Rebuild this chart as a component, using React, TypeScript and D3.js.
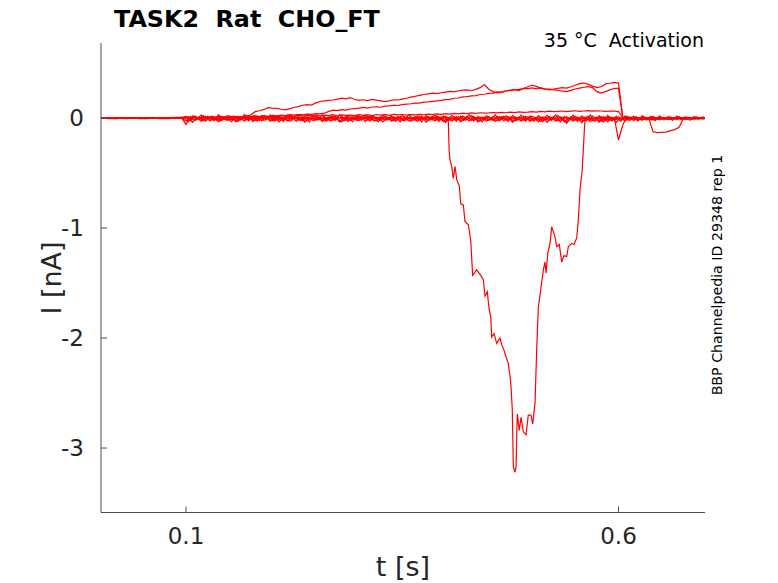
import * as d3 from 'd3'

// shared sampling grids for the regular sweeps (s)
const tGrid = d3.range(0, 141).map((i) => i * 0.005)
const tMid = d3.range(0, 141).map((i) => i * 0.005 + 0.0025)

// sweep values (nA), one per grid point
const sweepA = [
  0.0, 0.004, -0.003, 0.002, -0.004, 0.003, 0.001, -0.002, 0.004, -0.003, 0.002, 0.0, -0.004, 0.003, -0.001, 0.002, -0.003, 0.004, -0.002, 0.001,
  0.012, -0.025, 0.018, -0.01, 0.022, -0.015, 0.008, -0.02, 0.016, -0.008, 0.02, -0.018, 0.01, -0.014, 0.024, -0.012, 0.006, -0.022, 0.015, -0.006,
  0.018, -0.02, 0.01, -0.016, 0.022, -0.01, 0.014, -0.024, 0.008, -0.012, 0.02, -0.016, 0.012, -0.02, 0.018, -0.008, 0.016, -0.022, 0.01, -0.014,
  0.02, -0.012, 0.015, -0.018, 0.008, -0.022, 0.018, -0.01, 0.012, -0.016, 0.022, -0.014, 0.01, -0.02, 0.016, -0.008, 0.014, -0.018, 0.02, -0.012,
  0.016, -0.02, 0.012, -0.014, 0.018, -0.01, 0.022, -0.016, 0.01, -0.018, 0.014, -0.022, 0.016, -0.01, 0.02, -0.014, 0.012, -0.018, 0.016, -0.012,
  0.018, -0.016, 0.01, -0.02, 0.014, -0.012, 0.022, -0.018, 0.012, -0.014, 0.016, -0.02, 0.01, -0.016, 0.018, -0.01, 0.014, -0.022, 0.012, -0.018,
  0.01, -0.014, 0.016, -0.008, 0.012, -0.016, 0.01, -0.012, 0.014, -0.01, 0.008, -0.012, 0.01, -0.008, 0.012, -0.01, 0.006, -0.008, 0.01, -0.006, 0.004,
]
const sweepB = [
  -0.004, -0.002, -0.006, -0.003, -0.005, -0.001, -0.006, -0.004, -0.002, -0.005, -0.003, -0.006, -0.002, -0.004, -0.005, -0.003, -0.006, -0.001, -0.004, -0.003,
  -0.03, 0.005, -0.022, -0.002, -0.026, 0.004, -0.018, -0.008, -0.028, 0.002, -0.02, -0.006, -0.032, 0.0, -0.016, -0.01, -0.024, 0.006, -0.02, -0.004,
  -0.026, 0.002, -0.018, -0.008, -0.03, 0.004, -0.014, -0.012, -0.024, 0.0, -0.02, -0.006, -0.028, 0.003, -0.016, -0.01, -0.034, 0.002, -0.018, -0.006,
  -0.024, 0.004, -0.02, -0.01, -0.028, 0.0, -0.016, -0.008, -0.026, 0.002, -0.022, -0.012, -0.03, 0.004, -0.018, -0.006, -0.024, 0.0, -0.02, -0.008,
  -0.028, 0.002, -0.016, -0.01, -0.024, 0.004, -0.02, -0.006, -0.03, 0.0, -0.018, -0.008, -0.026, 0.002, -0.014, -0.012, -0.028, 0.004, -0.02, -0.006,
  -0.024, -0.002, -0.03, -0.008, -0.022, 0.0, -0.026, -0.01, -0.034, -0.004, -0.02, -0.008, -0.028, -0.002, -0.024, -0.012, -0.03, -0.004, -0.022, -0.01,
  -0.018, -0.006, -0.016, -0.004, -0.014, -0.008, -0.012, -0.004, -0.016, -0.006, -0.01, -0.004, -0.012, -0.006, -0.008, -0.004, -0.01, -0.006, -0.008, -0.004, -0.006,
]
const sweepC = [
  0.001, -0.002, 0.003, 0.0, -0.002, 0.002, -0.001, 0.003, -0.002, 0.001, 0.0, -0.003, 0.002, -0.001, 0.003, 0.0, -0.002, 0.002, -0.001, 0.001,
  0.006, -0.004, 0.01, 0.0, 0.012, -0.002, 0.008, 0.004, 0.014, 0.002, 0.01, 0.006, 0.016, 0.004, 0.012, 0.008, 0.018, 0.006, 0.014, 0.01,
  0.02, 0.012, 0.022, 0.016, 0.024, 0.014, 0.026, 0.018, 0.022, 0.02, 0.028, 0.018, 0.026, 0.022, 0.03, 0.02, 0.028, 0.024, 0.026, 0.022,
  0.03, 0.024, 0.028, 0.022, 0.032, 0.026, 0.03, 0.024, 0.034, 0.028, 0.032, 0.026, 0.03, 0.028, 0.034, 0.03, 0.036, 0.032, 0.038, 0.034,
  0.04, 0.036, 0.042, 0.038, 0.044, 0.04, 0.046, 0.042, 0.048, 0.044, 0.046, 0.05, 0.046, 0.052, 0.048, 0.054, 0.05, 0.056, 0.052, 0.054,
  0.058, 0.054, 0.06, 0.056, 0.062, 0.058, 0.06, 0.064, 0.058, 0.062, 0.066, 0.06, 0.064, 0.068, 0.062, 0.066, 0.064, 0.06, 0.064, 0.062,
  0.058, 0.002, -0.003, 0.002, -0.002, 0.001, -0.003, 0.002, 0.0, -0.002, 0.003, -0.001, 0.002, -0.002, 0.001, -0.001, 0.002, -0.002, 0.001, 0.0, 0.001,
]
const sweepD = [
  -0.001, 0.002, -0.002, 0.001, 0.003, -0.002, 0.0, 0.002, -0.003, 0.001, -0.001, 0.003, -0.002, 0.0, 0.002, -0.001, 0.001, -0.003, 0.002, 0.0,
  0.01, -0.012, 0.014, -0.006, 0.012, -0.01, 0.016, -0.004, 0.01, -0.012, 0.008, 0.004, 0.014, -0.006, 0.012, 0.03, 0.058, 0.066, 0.078, 0.094,
  0.09, 0.088, 0.08, 0.074, 0.086, 0.096, 0.104, 0.116, 0.122, 0.118, 0.138, 0.15, 0.156, 0.16, 0.164, 0.172, 0.18, 0.174, 0.186, 0.168,
  0.16, 0.166, 0.158, 0.17, 0.162, 0.156, 0.15, 0.156, 0.166, 0.164, 0.172, 0.18, 0.19, 0.198, 0.206, 0.214, 0.22, 0.226, 0.222, 0.23,
  0.236, 0.242, 0.238, 0.248, 0.254, 0.256, 0.248, 0.26, 0.276, 0.304, 0.262, 0.24, 0.228, 0.232, 0.246, 0.254, 0.258, 0.25, 0.268, 0.284,
  0.3, 0.288, 0.27, 0.262, 0.256, 0.262, 0.27, 0.276, 0.272, 0.284, 0.298, 0.312, 0.318, 0.306, 0.29, 0.276, 0.284, 0.31, 0.316, 0.324,
  0.318, 0.004, -0.006, 0.008, -0.004, 0.006, -0.008, 0.004, -0.002, 0.006, -0.004, 0.002, -0.006, 0.004, -0.002, 0.005, -0.003, 0.002, -0.004, 0.003, 0.0,
]
const sweepE = [
  0.002, -0.001, 0.001, -0.003, 0.002, 0.0, -0.002, 0.003, -0.001, 0.002, -0.002, 0.001, 0.003, -0.001, 0.0, 0.002, -0.003, 0.001, 0.0, -0.002,
  0.008, -0.004, 0.012, 0.002, 0.01, -0.002, 0.014, 0.004, 0.012, 0.006, 0.016, 0.008, 0.014, 0.01, 0.018, 0.012, 0.02, 0.014, 0.022, 0.016,
  0.024, 0.02, 0.026, 0.022, 0.03, 0.026, 0.032, 0.03, 0.036, 0.034, 0.04, 0.038, 0.044, 0.06, 0.072, 0.068, 0.076, 0.072, 0.082, 0.086,
  0.09, 0.096, 0.09, 0.1, 0.102, 0.098, 0.108, 0.11, 0.116, 0.114, 0.122, 0.126, 0.13, 0.136, 0.136, 0.144, 0.146, 0.152, 0.156, 0.16,
  0.168, 0.17, 0.18, 0.182, 0.192, 0.194, 0.202, 0.204, 0.214, 0.216, 0.224, 0.226, 0.238, 0.238, 0.248, 0.248, 0.258, 0.26, 0.268, 0.268,
  0.274, 0.266, 0.276, 0.264, 0.262, 0.256, 0.25, 0.244, 0.24, 0.252, 0.264, 0.272, 0.28, 0.286, 0.276, 0.24, 0.226, 0.24, 0.256, 0.268,
  0.272, -0.004, 0.003, -0.006, 0.002, -0.004, 0.005, -0.002, 0.003, -0.005, 0.002, -0.003, 0.004, -0.002, 0.003, -0.004, 0.002, -0.001, 0.003, -0.002, 0.001,
]
const sweepG = [
  0.002, -0.001, 0.003, -0.002, 0.001, 0.003, -0.002, 0.0, 0.002, -0.003, 0.001, 0.002, -0.001, 0.003, -0.002, 0.0, 0.002, -0.003, 0.001, 0.0,
  -0.06, 0.014, -0.018, 0.008, -0.012, 0.016, -0.006, 0.01, -0.02, 0.012, -0.008, 0.018, -0.014, 0.006, -0.01, 0.014, -0.016, 0.01, -0.004, 0.012,
  -0.012, 0.01, -0.016, 0.014, -0.008, 0.012, -0.02, 0.008, -0.01, 0.016, -0.014, 0.006, -0.012, 0.01, -0.018, 0.012, -0.006, 0.014, -0.016, 0.008,
  -0.01, 0.012, -0.014, 0.016, -0.008, 0.01, -0.018, 0.006, -0.012, 0.014, -0.016, 0.01, -0.006, 0.012, -0.02, 0.008, -0.01, 0.016, -0.014, 0.01,
  -0.04, 0.008, -0.014, 0.012, -0.01, 0.016, -0.018, 0.006, -0.012, 0.01, -0.016, 0.012, -0.008, 0.014, -0.02, 0.01, -0.012, 0.008, -0.014, 0.012,
  -0.01, 0.006, -0.016, 0.01, -0.012, 0.014, -0.018, 0.008, -0.05, 0.012, -0.014, 0.006, -0.01, 0.016, -0.012, 0.008, -0.02, 0.01, -0.014, 0.006,
  -0.2, -0.06, 0.01, -0.008, 0.006, -0.01, 0.004, -0.006, -0.125, -0.132, -0.13, -0.128, -0.115, -0.105, -0.085, -0.005, 0.004, -0.006, 0.003, -0.004, 0.002,
]
// two more baseline sweeps on the half-step grid
const sweepH = [
  0.002, -0.002, 0.001, -0.003, 0.002, 0.0, -0.002, 0.003, -0.001, 0.002, -0.003, 0.001, 0.002, -0.002, 0.0, 0.003, -0.002, 0.001, -0.001, 0.002,
  -0.035, 0.02, -0.012, 0.028, -0.03, 0.01, -0.024, 0.03, -0.016, 0.022, -0.034, 0.014, -0.02, 0.032, -0.026, 0.018, -0.03, 0.024, -0.014, 0.028,
  -0.028, 0.016, -0.032, 0.026, -0.018, 0.03, -0.024, 0.012, -0.036, 0.022, -0.016, 0.028, -0.03, 0.018, -0.022, 0.032, -0.026, 0.014, -0.034, 0.024,
  -0.02, 0.03, -0.028, 0.016, -0.034, 0.026, -0.018, 0.022, -0.03, 0.012, -0.026, 0.03, -0.022, 0.018, -0.036, 0.024, -0.016, 0.028, -0.032, 0.02,
  -0.024, 0.026, -0.03, 0.018, -0.02, 0.032, -0.028, 0.014, -0.034, 0.022, -0.018, 0.03, -0.026, 0.016, -0.032, 0.024, -0.022, 0.028, -0.03, 0.018,
  -0.028, 0.022, -0.034, 0.026, -0.02, 0.03, -0.036, 0.014, -0.026, 0.028, -0.032, 0.018, -0.024, 0.03, -0.03, 0.02, -0.038, 0.024, -0.028, 0.016,
  -0.03, 0.02, -0.024, 0.018, -0.028, 0.022, -0.02, 0.016, -0.024, 0.02, -0.018, 0.014, -0.022, 0.018, -0.016, 0.012, -0.02, 0.014, -0.012, 0.01, -0.008,
]
const sweepK = [
  -0.003, 0.001, -0.004, -0.001, -0.003, 0.0, -0.004, -0.002, 0.001, -0.003, -0.001, -0.004, 0.0, -0.002, -0.003, 0.001, -0.004, -0.002, 0.0, -0.003,
  0.01, -0.038, 0.006, -0.03, 0.014, -0.026, 0.004, -0.034, 0.012, -0.022, 0.008, -0.036, 0.002, -0.028, 0.016, -0.032, 0.006, -0.024, 0.01, -0.03,
  0.012, -0.034, 0.004, -0.026, 0.014, -0.03, 0.008, -0.038, 0.002, -0.024, 0.012, -0.032, 0.006, -0.028, 0.016, -0.036, 0.004, -0.03, 0.01, -0.022,
  0.008, -0.032, 0.014, -0.026, 0.002, -0.036, 0.01, -0.028, 0.006, -0.034, 0.012, -0.024, 0.004, -0.03, 0.016, -0.038, 0.008, -0.026, 0.01, -0.032,
  0.006, -0.028, 0.012, -0.034, 0.004, -0.026, 0.014, -0.036, 0.008, -0.03, 0.002, -0.032, 0.01, -0.024, 0.012, -0.038, 0.006, -0.028, 0.014, -0.03,
  0.004, -0.034, 0.01, -0.04, 0.006, -0.028, 0.012, -0.036, 0.002, -0.03, 0.008, -0.042, 0.01, -0.032, 0.004, -0.038, 0.012, -0.034, 0.006, -0.04,
  0.002, -0.026, 0.008, -0.022, 0.004, -0.02, 0.006, -0.018, 0.002, -0.016, 0.006, -0.014, 0.004, -0.012, 0.002, -0.014, 0.004, -0.01, 0.002, -0.008, 0.0,
]

// the sweep with the large inward current, own time base
const tBig = [
  0.0, 0.05, 0.1, 0.15, 0.2, 0.25, 0.3, 0.35, 0.4, 0.4032, 0.4042, 0.4052, 0.4072, 0.409, 0.411, 0.413, 0.416, 0.4176, 0.4206, 0.4225,
  0.4264, 0.4291, 0.4314, 0.4341, 0.436, 0.4379, 0.4407, 0.4437, 0.4457, 0.4483, 0.4503, 0.4523, 0.4534, 0.4561, 0.4592, 0.463, 0.465, 0.4676, 0.4699, 0.4726,
  0.4746, 0.4757, 0.4772, 0.4784, 0.4803, 0.4815, 0.483, 0.4853, 0.4873, 0.4899, 0.4931, 0.4957, 0.4988, 0.5008, 0.5035, 0.5054, 0.5073, 0.5101, 0.5131, 0.515,
  0.5162, 0.5182, 0.5208, 0.5228, 0.5266, 0.5286, 0.5316, 0.5343, 0.537, 0.5401, 0.542, 0.5459, 0.5486, 0.5517, 0.5535, 0.5555, 0.5581, 0.5605, 0.5613, 0.58,
  0.62, 0.66, 0.7,
]
const iBig = [
  0.0, -0.004, 0.008, -0.01, 0.006, -0.008, 0.01, -0.006, 0.004, -0.02, -0.3, -0.38, -0.44, -0.55, -0.44, -0.56, -0.62, -0.78, -0.79, -0.94,
  -0.97, -1.11, -1.43, -1.4, -1.38, -1.4, -1.43, -1.47, -1.62, -1.58, -1.73, -1.81, -1.99, -1.96, -2.05, -2.0, -2.06, -2.11, -2.17, -2.23,
  -2.35, -2.44, -2.65, -3.17, -3.22, -3.17, -2.69, -2.84, -2.72, -2.85, -2.88, -2.7, -2.7, -2.78, -2.59, -2.11, -1.72, -1.56, -1.38, -1.31,
  -1.41, -1.23, -1.14, -0.99, -1.08, -1.17, -1.15, -1.31, -1.25, -1.26, -1.17, -1.14, -1.15, -1.09, -0.93, -0.65, -0.47, -0.11, -0.02, 0.004,
  -0.006, 0.004, -0.002,
]

const gridSweeps = [sweepA, sweepB, sweepG, sweepC, sweepE, sweepD]
const midSweeps = [sweepH, sweepK]

const xTicks = [0.1, 0.6]
const yTicks = [0, -1, -2, -3]

const W = 778
const H = 583
const plot = { left: 101, right: 705, top: 43, bottom: 512.5 }

export default function App() {
  const x = d3.scaleLinear().domain([0.0017, 0.7]).range([plot.left, plot.right])
  const y = d3.scaleLinear().domain([-3.586, 0.682]).range([plot.bottom, plot.top])

  const line = d3
    .line<[number, number]>()
    .x((d) => x(d[0]))
    .y((d) => y(d[1]))

  const gridPaths = gridSweeps.map((s) => line(s.map((v, i) => [tGrid[i], v])))
  const midPaths = midSweeps.map((s) => line(s.map((v, i) => [tMid[i], v])))
  const bigPath = line(iBig.map((v, i) => [tBig[i], v]))

  const font = 'DejaVu Sans, sans-serif'
  const axisColor = '#4d4d4d'
  const textColor = '#262626'

  return (
    <svg
      width={W}
      height={H}
      style={{ position: 'absolute', left: 0, top: 0, background: '#fff' }}
      fontFamily={font}
    >
      <defs>
        <clipPath id="plotClip">
          <rect x={plot.left} y={plot.top} width={plot.right - plot.left} height={plot.bottom - plot.top} />
        </clipPath>
      </defs>

      <g clipPath="url(#plotClip)" fill="none" stroke="#ff0000" strokeWidth={1.2}>
        {midPaths.map((p, i) => (
          <path key={'m' + i} d={p} />
        ))}
        {gridPaths.map((p, i) => (
          <path key={i} d={p} />
        ))}
        <path d={bigPath} />
      </g>

      {/* axes */}
      <g stroke={axisColor} strokeWidth={1}>
        <line x1={plot.left} x2={plot.right} y1={plot.bottom} y2={plot.bottom} />
        <line x1={plot.left} x2={plot.left} y1={plot.top} y2={plot.bottom} />
        {xTicks.map((t) => (
          <line key={t} x1={x(t)} x2={x(t)} y1={plot.bottom} y2={plot.bottom - 6} />
        ))}
        {yTicks.map((t) => (
          <line key={t} x1={plot.left} x2={plot.left + 6} y1={y(t)} y2={y(t)} />
        ))}
      </g>

      <g fill={textColor} fontSize={23}>
        {xTicks.map((t) => (
          <text key={t} x={x(t)} y={543.5} textAnchor="middle">
            {d3.format('.1f')(t)}
          </text>
        ))}
        {yTicks.map((t) => (
          <text key={t} x={84} y={y(t) + 8.3} textAnchor="end">
            {t === 0 ? '0' : '-' + Math.abs(t)}
          </text>
        ))}
      </g>

      <text x={403} y={576} textAnchor="middle" fontSize={27} fill={textColor}>
        t [s]
      </text>
      <text
        transform={`translate(61, 278) rotate(-90)`}
        textAnchor="middle"
        fontSize={27}
        fill={textColor}
      >
        I [nA]
      </text>

      <text x={114} y={27} fontSize={23.8} fontWeight="bold" fill="#000" style={{ whiteSpace: 'pre' }}>
        {'TASK2  Rat  CHO_FT'}
      </text>
      <text x={704} y={47} fontSize={19} textAnchor="end" fill="#000" style={{ whiteSpace: 'pre' }}>
        {'35 °C  Activation'}
      </text>
      <text
        transform={`translate(722, 275) rotate(-90)`}
        textAnchor="middle"
        fontSize={14.2}
        fill="#000"
      >
        BBP Channelpedia ID 29348 rep 1
      </text>
    </svg>
  )
}
